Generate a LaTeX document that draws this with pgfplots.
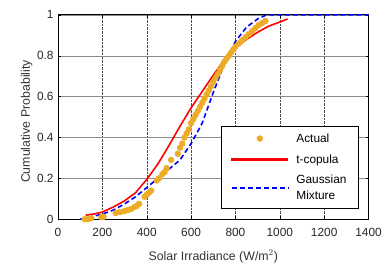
\documentclass[border=0pt]{standalone}
\usepackage{pgfplots}
\pgfplotsset{compat=1.18}
\usepackage{fontspec}
\setmainfont{Liberation Sans}
\definecolor{actual}{RGB}{236,172,40}
\begin{document}
\begin{tikzpicture}
\begin{axis}[
  scale only axis, width=313bp, height=206bp,
  xmin=0, xmax=1400, ymin=0, ymax=1,
  xtick={0,200,...,1400}, ytick={0,0.2,...,1},
  yticklabels={0,0.2,0.4,0.6,0.8,1},
  /pgf/number format/assume math mode=true,
  scaled x ticks=false,
  xticklabel style={/pgf/number format/1000 sep={}, yshift=-6bp},
  yticklabel style={xshift=-1bp},
  tick align=inside, major tick length=3bp,
  tick style={black, thin},
  grid=major,
  x grid style={black!70, densely dotted, thin},
  y grid style={black!45, thin},
  axis line style={black, line width=0.8bp},
  font=\fontsize{12}{14}\selectfont,
  every tick label/.append style={text=black!85},
  xlabel={Solar Irradiance (W/m$^2$)},
  ylabel={Cumulative Probability},
  label style={text=black!80, font=\fontsize{12.5}{14}\selectfont},
  xlabel style={at={(axis description cs:0.5,0)}, anchor=center, yshift=-37.5bp},
  ylabel style={at={(axis description cs:-0.1006,0.478)}, anchor=center},
  legend style={at={(0.968,0.053)}, anchor=south east, draw=black, thin,
    font=\fontsize{12}{15.5}\selectfont, cells={align=left, anchor=west},
    row sep=7pt, inner xsep=10bp, inner ysep=5.5bp,
    /tikz/every odd column/.append style={column sep=6bp}},
  legend cell align=left,
]
\addplot[only marks, mark=*, mark size=3bp, color=actual,
  legend image code/.code={\draw[only marks, mark=*, mark size=3bp, color=actual] plot coordinates {(0.99cm,0cm)};}] coordinates {
(120,0.0)(135,0.0)(150,0.005)(195,0.01)(205,0.012)(260,0.03)(280,0.035)(300,0.04)(315,0.045)(330,0.05)(345,0.06)(355,0.065)(365,0.075)(390,0.11)(400,0.12)(410,0.13)(420,0.14)(445,0.19)(455,0.2)(470,0.22)(480,0.23)(490,0.25)(510,0.29)(540,0.32)(550,0.35)(560,0.37)(570,0.40)(580,0.42)(590,0.44)(600,0.47)(610,0.49)(620,0.51)(630,0.53)(640,0.55)(650,0.57)(660,0.59)(670,0.61)(680,0.63)(690,0.65)(700,0.67)(710,0.69)(720,0.71)(730,0.73)(740,0.75)(750,0.77)(760,0.785)(770,0.80)(780,0.815)(790,0.83)(800,0.845)(815,0.86)(830,0.875)(845,0.89)(860,0.905)(875,0.92)(890,0.935)(905,0.95)(920,0.96)(935,0.97)
};
\addlegendentry{Actual}
\addplot[red, line width=1.6bp,
  legend image code/.code={\fill[red] (0cm,-0.9bp) rectangle (1.98cm,0.9bp);}] coordinates {
(125,0.02)(160,0.025)(200,0.035)(250,0.06)(300,0.09)(350,0.13)(400,0.195)(450,0.27)(500,0.36)(550,0.455)(600,0.545)(650,0.625)(700,0.705)(750,0.78)(800,0.84)(850,0.88)(900,0.915)(950,0.945)(1000,0.965)(1035,0.98)
};
\addlegendentry{t-copula}
\addplot[blue, line width=1.6bp, dash pattern=on 5bp off 3bp,
  legend image code/.code={\draw[blue, line width=1.6bp, dash pattern=on 5bp off 3bp] (0cm,0cm) -- (1.98cm,0cm);}] coordinates {
(100,0)(150,0.012)(200,0.025)(250,0.045)(300,0.075)(350,0.11)(400,0.155)(450,0.2)(500,0.245)(550,0.29)(600,0.37)(650,0.47)(700,0.62)(750,0.76)(800,0.87)(850,0.94)(900,0.98)(940,1.0)(1400,1.0)
};
\addlegendentry{Gaussian\\Mixture}
\end{axis}
\path ([yshift=15bp]current axis.north) ([xshift=-58.5bp]current axis.west) ([yshift=-46bp]current axis.south) ([xshift=13bp]current axis.east);
\end{tikzpicture}
\end{document}
